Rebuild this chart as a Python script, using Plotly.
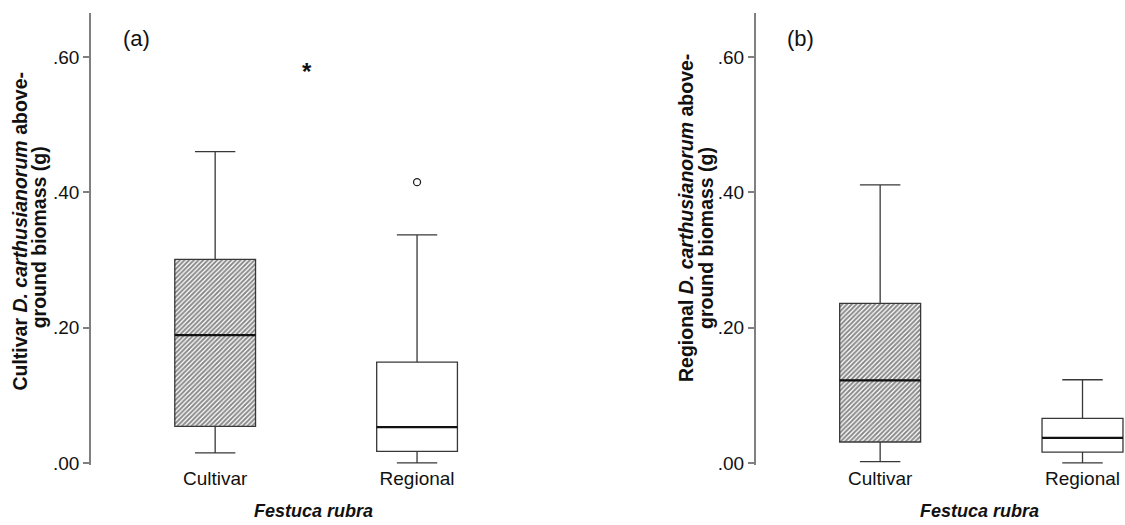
import plotly.graph_objects as go

# ---- data ----
categories = ["Cultivar", "Regional"]
# panel (a): Cultivar D. carthusianorum
a_lower = [0.015, 0.000]
a_q1 = [0.054, 0.017]
a_median = [0.189, 0.053]
a_q3 = [0.301, 0.149]
a_upper = [0.460, 0.337]
a_outlier_x = ["Regional"]
a_outlier_y = [0.415]
# panel (b): Regional D. carthusianorum
b_lower = [0.002, 0.000]
b_q1 = [0.031, 0.016]
b_median = [0.122, 0.037]
b_q3 = [0.236, 0.066]
b_upper = [0.411, 0.123]
ytickvals = [0.0, 0.2, 0.4, 0.6]
yticktext = [".00", ".20", ".40", ".60"]
sig_marker = "*"
sig_pos = [0.455, 0.584]

OFF = 0
W, H = 1125, 525
MT, MB = 13, 60
BOXW = 0.4
TICKFONT = "Liberation Sans Narrow, Arial Narrow, Liberation Sans, Arial"
BOLDFONT = "Liberation Sans, Arial"
LINEC = "#383838"

fig = go.Figure()

def add_panel(xa, ya, lower, q1, med, q3, upper):
    xs = list(range(len(categories)))
    # hatched cultivar box
    fig.add_trace(go.Bar(
        x=[xs[0]], y=[q3[0] - q1[0]], base=[q1[0]], width=BOXW,
        marker=dict(color="white", line=dict(width=0),
                    pattern=dict(shape="/", size=3.3, solidity=0.6,
                                 fgcolor="#111111", bgcolor="white",
                                 fillmode="overlay")),
        xaxis=xa, yaxis=ya, hoverinfo="skip"))
    for i in xs:
        fig.add_trace(go.Box(
            x=[i], q1=[q1[i]], median=[med[i]], q3=[q3[i]],
            lowerfence=[lower[i]], upperfence=[upper[i]],
            width=BOXW, whiskerwidth=0.5,
            fillcolor="rgba(0,0,0,0)", line=dict(color=LINEC, width=1.3),
            boxpoints=False, xaxis=xa, yaxis=ya))
        fig.add_trace(go.Scatter(
            x=[i - BOXW / 2, i + BOXW / 2], y=[med[i], med[i]], mode="lines",
            line=dict(color="#111111", width=2.2), xaxis=xa, yaxis=ya,
            hoverinfo="skip"))

add_panel("x", "y", a_lower, a_q1, a_median, a_q3, a_upper)
add_panel("x2", "y2", b_lower, b_q1, b_median, b_q3, b_upper)

fig.add_trace(go.Scatter(
    x=[categories.index(c) for c in a_outlier_x], y=a_outlier_y, mode="markers",
    marker=dict(symbol="circle-open", size=7, color="#222222", line=dict(width=1.3)),
    xaxis="x", yaxis="y"))

def px_x(p):
    return (p - OFF) / W

def px_y(p):
    return (H - MB - (p - OFF)) / (H - MT - MB)

xcommon = dict(tickvals=[0, 1], ticktext=categories, showline=False, ticks="",
               showgrid=False, zeroline=False,
               tickfont=dict(family=TICKFONT, size=19, color="#111111"))
ycommon = dict(range=[-0.003, 0.665], tickvals=ytickvals, ticktext=yticktext,
               showline=True, linecolor="#808080", linewidth=1.5,
               ticks="outside", ticklen=6, tickcolor="#808080", tickwidth=1.5,
               showgrid=False, zeroline=False,
               tickfont=dict(family=TICKFONT, size=19, color="#111111"))

fig.update_layout(
    width=W, height=H,
    margin=dict(l=0, r=0, t=MT, b=MB),
    paper_bgcolor="white", plot_bgcolor="white",
    showlegend=False, barmode="overlay", boxmode="overlay",
    xaxis=dict(domain=[px_x(91), px_x(518)], range=[-0.615, 1.5], anchor="y", **xcommon),
    xaxis2=dict(domain=[px_x(755.7), 1.0], range=[-0.615, 1.21], anchor="y2", **xcommon),
    yaxis=dict(anchor="x", **ycommon),
    yaxis2=dict(anchor="x2", **ycommon),
)

ann = []
def add_ann(text, xc, yc, size, family, angle=0, ref="paper"):
    d = dict(text=text, showarrow=False, xanchor="center", yanchor="middle",
             font=dict(family=family, size=size, color="#111111"), textangle=angle)
    if ref == "paper":
        d.update(x=px_x(xc), y=px_y(yc), xref="paper", yref="paper")
    else:
        d.update(x=xc, y=yc, xref="x", yref="y")
    ann.append(d)

# panel letters
add_ann("(a)", 136, 38, 22, TICKFONT)
add_ann("(b)", 800, 38, 22, TICKFONT)
# significance marker
add_ann("<b>" + sig_marker + "</b>", sig_pos[0], sig_pos[1], 24, BOLDFONT, ref="data")
ann[-1]["yshift"] = -4
# x titles
for xc in (313, 980):
    add_ann("<b><i>Festuca rubra</i></b>", xc, 511, 18, BOLDFONT)
# y titles (two lines each)
ytitles = [
    ("Cultivar <i>D. carthusianorum</i> above-", 19.6, 231),
    ("ground biomass (g)", 39.3, 237),
    ("Regional <i>D. carthusianorum</i> above-", 686, 218),
    ("ground biomass (g)", 706, 238),
]
for txt, xc, yc in ytitles:
    add_ann("<b>" + txt + "</b>", xc, yc, 19.5, BOLDFONT, angle=-90)
fig.update_layout(annotations=ann)

fig.write_html(
    "out.html",
    config={"displayModeBar": False},
    post_script="document.body.style.margin='0';document.body.style.overflow='hidden';",
)
